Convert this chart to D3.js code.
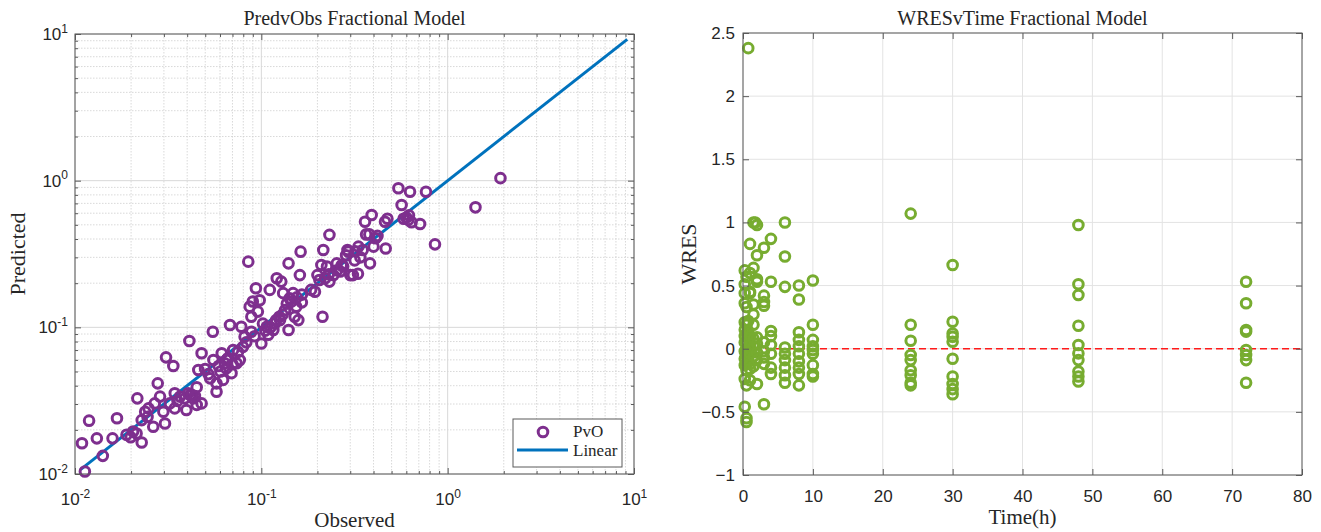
<!DOCTYPE html>
<html>
<head>
<meta charset="utf-8">
<script src="https://cdn.jsdelivr.net/npm/d3@7"></script>
<style>
  body { margin: 0; background: #fff; }
  svg { display: block; }
</style>
</head>
<body>
<svg id="chart" width="1321" height="532"></svg>
<script>
// Predicted vs observed (log-log)
const pvoObserved = [
  0.0113, 0.0109, 0.0119, 0.0131, 0.0141, 0.0159, 0.0168, 0.0189, 0.0199, 0.0214,
  0.0228, 0.0216, 0.0228, 0.0238, 0.0248, 0.0263, 0.0268, 0.0278, 0.0286, 0.0304,
  0.0308, 0.0337, 0.0298, 0.0323, 0.0343, 0.0343, 0.0366, 0.0389, 0.0396, 0.0411,
  0.0415, 0.0431, 0.0450, 0.0459, 0.0478, 0.0478, 0.0450, 0.0499, 0.0531, 0.0549,
  0.0553, 0.0575, 0.0575, 0.0603, 0.0613, 0.0623, 0.0636, 0.0648, 0.0662, 0.0679,
  0.0692, 0.0706, 0.0736, 0.0766, 0.0781, 0.0797, 0.0813, 0.0851, 0.0866, 0.0884,
  0.0884, 0.090, 0.0935, 0.0958, 0.098, 0.100, 0.102, 0.107, 0.109, 0.111,
  0.116, 0.118, 0.121, 0.126, 0.128, 0.131, 0.134, 0.137, 0.140, 0.140,
  0.142, 0.148, 0.151, 0.154, 0.158, 0.161, 0.1625, 0.165, 0.194, 0.213,
  0.210, 0.215, 0.200, 0.205, 0.220, 0.225, 0.232, 0.232, 0.244, 0.254,
  0.265, 0.275, 0.285, 0.290, 0.300, 0.310, 0.317, 0.293, 0.330, 0.332,
  0.350, 0.383, 0.391, 0.360, 0.365, 0.380, 0.400, 0.410, 0.461, 0.465,
  0.475, 0.544, 0.566, 0.580, 0.615, 0.628, 0.640, 0.711, 0.765, 0.855,
  1.41, 1.92, 0.0205, 0.0245, 0.0355, 0.0405, 0.0425, 0.0440, 0.0520, 0.0590,
  0.0650, 0.0700, 0.0750, 0.0830, 0.0920, 0.105, 0.112, 0.120, 0.125, 0.130,
  0.145, 0.155, 0.165, 0.185, 0.230, 0.255, 0.270, 0.320, 0.340, 0.420,
  0.600, 0.620
];
const pvoPredicted = [
  0.0104, 0.0162, 0.0231, 0.0175, 0.0133, 0.0175, 0.0240, 0.0185, 0.0178, 0.0189,
  0.0164, 0.0328, 0.0233, 0.0266, 0.0280, 0.0210, 0.0303, 0.0415, 0.0337, 0.0221,
  0.0624, 0.0545, 0.0266, 0.0303, 0.0355, 0.0280, 0.0337, 0.0328, 0.0273, 0.0807,
  0.0346, 0.0328, 0.0390, 0.0512, 0.0665, 0.0303, 0.0296, 0.0520, 0.0449, 0.0933,
  0.0599, 0.0364, 0.0415, 0.0500, 0.0665, 0.0438, 0.0569, 0.0525, 0.0615, 0.1037,
  0.0487, 0.0700, 0.0569, 0.0599, 0.101, 0.0736, 0.0863, 0.2805, 0.1384, 0.0933,
  0.118, 0.150, 0.1845, 0.128, 0.153, 0.0776, 0.106, 0.101, 0.089, 0.180,
  0.096, 0.106, 0.216, 0.112, 0.205, 0.171, 0.131, 0.145, 0.273, 0.096,
  0.158, 0.171, 0.118, 0.138, 0.112, 0.227, 0.328, 0.167, 0.175, 0.118,
  0.266, 0.337, 0.227, 0.210, 0.216, 0.260, 0.205, 0.427, 0.227, 0.273,
  0.240, 0.260, 0.310, 0.337, 0.227, 0.227, 0.286, 0.328, 0.232, 0.355,
  0.337, 0.273, 0.583, 0.525, 0.430, 0.430, 0.355, 0.405, 0.525, 0.345,
  0.550, 0.887, 0.683, 0.550, 0.540, 0.841, 0.520, 0.507, 0.841, 0.368,
  0.658, 1.04, 0.0195, 0.0245, 0.0315, 0.0355, 0.0345, 0.0340, 0.0480, 0.0545,
  0.0600, 0.0560, 0.0680, 0.0790, 0.0870, 0.095, 0.100, 0.112, 0.118, 0.122,
  0.150, 0.160, 0.148, 0.180, 0.230, 0.245, 0.265, 0.330, 0.300, 0.420,
  0.560, 0.580
];
const linearX = [0.0107, 9.2];
const logTicks = [0.01, 0.1, 1, 10];

// Weighted residuals vs time
const wresTime = [
  0.75, 1.5, 2, 1.75, 6, 1, 3, 4, 2, 6,
  0.25, 1.5, 1, 0.5, 2, 2, 4, 0.25, 6, 8, 10, 8,
  0.25, 1, 3, 3, 0.25, 1.5, 3, 1, 0.5,
  1.5, 0.25, 0.5, 1.5, 0.75,
  4, 4, 8, 8, 10, 10, 10,
  0.25, 0.25, 0.25, 0.25, 0.25, 0.25, 0.5, 0.5, 0.5, 0.5, 0.5, 0.5,
  0.75, 0.75, 0.75, 0.75, 0.75, 1, 1, 1, 1, 1, 1.5, 1.5, 1.5, 1.5,
  2, 2, 2, 2, 3, 3, 3, 3, 4, 4, 4, 4,
  6, 6, 6, 6, 6, 6, 8, 8, 8, 8, 8, 8, 10, 10, 10, 10, 10,
  2, 1, 0.5, 0.25, 0.25, 0.5, 0.5, 3,
  24, 24, 24, 24, 24, 24, 24, 24, 24,
  30, 30, 30, 30, 30, 30, 30, 30, 30, 30,
  48, 48, 48, 48, 48, 48, 48, 48, 48, 48,
  72, 72, 72, 72, 72, 72, 72, 72
];
const wresValues = [
  2.38, 1.0, 0.98, 1.0, 1.0, 0.83, 0.80, 0.87, 0.74, 0.73,
  0.62, 0.64, 0.60, 0.57, 0.53, 0.55, 0.53, 0.51, 0.49, 0.50, 0.54, 0.39,
  0.44, 0.44, 0.42, 0.34, 0.36, 0.35, 0.37, 0.45, 0.33,
  0.27, 0.21, 0.19, 0.19, 0.22,
  0.14, 0.10, 0.13, 0.07, 0.19, 0.07, 0.02,
  0.15, 0.10, 0.05, -0.02, -0.08, -0.13, 0.12, 0.06, -0.01, -0.06, -0.12, -0.17,
  0.14, 0.08, 0.0, -0.05, -0.10, 0.10, 0.03, -0.04, -0.12, -0.16, 0.08, 0.02, -0.06, -0.14,
  0.09, 0.04, -0.03, -0.09, 0.05, -0.02, -0.07, -0.12, 0.03, -0.04, -0.15, -0.20,
  0.01, -0.09, -0.15, -0.21, -0.27, -0.04, -0.04, -0.15, -0.20, -0.29, 0.02, -0.10,
  -0.01, -0.04, -0.13, -0.20, -0.22,
  -0.28, -0.25, -0.29, -0.24, -0.46, -0.55, -0.58, -0.44,
  1.07, 0.19, 0.063, -0.05, -0.09, -0.17, -0.21, -0.27, -0.29,
  0.663, 0.214, 0.12, 0.095, 0.055, -0.08, -0.22, -0.28, -0.32, -0.36,
  0.98, 0.51, 0.425, 0.182, 0.03, -0.037, -0.09, -0.18, -0.22, -0.26,
  0.53, 0.36, 0.148, 0.135, -0.01, -0.05, -0.09, -0.27
];
const timeTicks = [0, 10, 20, 30, 40, 50, 60, 70, 80];
const wresTicks = [-1, -0.5, 0, 0.5, 1, 1.5, 2, 2.5];

const serif = "'Liberation Serif', 'Times New Roman', serif";
const sans = "'Liberation Sans', Arial, Helvetica, sans-serif";
const boxColor = "#5a5a5a";
const textColor = "#262626";
const markerR = 4.8;
const markerW = 3;

const svg = d3.select("#chart");

const L = {left: 75, right: 634, top: 34, bottom: 474};
const R = {left: 743, right: 1302, top: 33, bottom: 475};

const x1 = d3.scaleLog().domain([0.01, 10]).range([L.left, L.right]);
const y1 = d3.scaleLog().domain([0.01, 10]).range([L.bottom, L.top]);
const x2 = d3.scaleLinear().domain([0, 80]).range([R.left, R.right]);
const y2 = d3.scaleLinear().domain([-1, 2.5]).range([R.bottom, R.top]);

const minorLog = x1.ticks().filter(v => !logTicks.some(t => Math.abs(t - v) < 1e-9));

function powLabel(text) {
  text.each(function(v) {
    const t = d3.select(this);
    const e = Math.round(Math.log10(v));
    t.text(null);
    t.append("tspan").text("10");
    t.append("tspan").attr("dy", "-0.6em").attr("font-size", "12px").text(e);
  });
}

function gridLines(g, xs, ys, box, xScale, yScale, cls) {
  g.selectAll(`line.v${cls}`).data(xs).enter().append("line")
    .attr("x1", d => xScale(d)).attr("x2", d => xScale(d))
    .attr("y1", box.top).attr("y2", box.bottom);
  g.selectAll(`line.h${cls}`).data(ys).enter().append("line")
    .attr("y1", d => yScale(d)).attr("y2", d => yScale(d))
    .attr("x1", box.left).attr("x2", box.right);
}

function styleAxis(g) {
  g.select(".domain").remove();
  g.selectAll(".tick line").attr("stroke", boxColor);
  g.selectAll("text").attr("fill", textColor).style("font-family", sans).style("font-size", "17px");
}

function frame(box, xScale, yScale, xMajor, yMajor, xMinor, yMinor, fmt, xPad, yPad) {
  const w = box.right - box.left, h = box.bottom - box.top;
  const sides = [
    ["bottom", `translate(0,${box.bottom})`, xMajor, xMinor, true],
    ["top", `translate(0,${box.top})`, xMajor, xMinor, false],
    ["left", `translate(${box.left},0)`, yMajor, yMinor, true],
    ["right", `translate(${box.right},0)`, yMajor, yMinor, false]
  ];
  const make = side => side === "bottom" ? d3.axisBottom(xScale) : side === "top" ? d3.axisTop(xScale)
    : side === "left" ? d3.axisLeft(yScale) : d3.axisRight(yScale);
  for (const [side, tr, major, minor, labels] of sides) {
    if (minor.length) {
      const gm = svg.append("g").attr("transform", tr)
        .call(make(side).tickValues(minor).tickSize(-3).tickFormat(""));
      styleAxis(gm);
    }
    const pad = side === "bottom" ? xPad : yPad;
    const ax = make(side).tickValues(major).tickSize(-6).tickPadding(pad);
    if (labels) ax.tickFormat(fmt === "pow" ? (d => d) : fmt); else ax.tickFormat("");
    const g = svg.append("g").attr("transform", tr).call(ax);
    styleAxis(g);
    if (labels && fmt === "pow") g.selectAll(".tick text").call(powLabel);
  }
  svg.append("rect")
    .attr("x", box.left).attr("y", box.top).attr("width", w).attr("height", h)
    .attr("fill", "none").attr("stroke", boxColor).attr("stroke-width", 1);
}

// ---------- left panel ----------
const gl = svg.append("g");
const minorGrid = gl.append("g").attr("stroke", "#cfcfcf").attr("stroke-width", 0.8)
  .attr("stroke-dasharray", "1.5,1.5");
gridLines(minorGrid, minorLog, minorLog, L, x1, y1, "m");
const majorGrid = gl.append("g").attr("stroke", "#d8d8d8").attr("stroke-width", 1);
gridLines(majorGrid, logTicks, logTicks, L, x1, y1, "M");

gl.append("path")
  .datum(linearX)
  .attr("fill", "none")
  .attr("stroke", "#0072BD")
  .attr("stroke-width", 3)
  .attr("d", d3.line().x(d => x1(d)).y(d => y1(d)));

gl.selectAll("circle.pvo")
  .data(d3.range(pvoObserved.length))
  .enter()
  .append("circle")
    .attr("class", "pvo")
    .attr("cx", i => x1(pvoObserved[i]))
    .attr("cy", i => y1(pvoPredicted[i]))
    .attr("r", markerR)
    .attr("fill", "none")
    .attr("stroke", "#7E2F8E")
    .attr("stroke-width", markerW);

frame(L, x1, y1, logTicks, logTicks, minorLog, minorLog, "pow", 19, 7);

// ---------- right panel ----------
const gr = svg.append("g");
const rGrid = gr.append("g").attr("stroke", "#e3e3e3").attr("stroke-width", 1);
gridLines(rGrid, timeTicks, wresTicks, R, x2, y2, "r");

gr.append("line")
  .attr("x1", x2(0)).attr("x2", x2(80))
  .attr("y1", y2(0)).attr("y2", y2(0))
  .attr("stroke", "#ff1a1a")
  .attr("stroke-width", 1.6)
  .attr("stroke-dasharray", "7,4");

gr.selectAll("circle.wres")
  .data(d3.range(wresTime.length))
  .enter()
  .append("circle")
    .attr("class", "wres")
    .attr("cx", i => x2(wresTime[i]))
    .attr("cy", i => y2(wresValues[i]))
    .attr("r", markerR)
    .attr("fill", "none")
    .attr("stroke", "#77AC30")
    .attr("stroke-width", markerW);

frame(R, x2, y2, timeTicks, wresTicks, [], [], d => d3.format("")(d), 15, 8);

// ---------- legend ----------
const lg = svg.append("g");
lg.append("rect")
  .attr("x", 513).attr("y", 419).attr("width", 109).attr("height", 48)
  .attr("fill", "#fff").attr("stroke", boxColor).attr("stroke-width", 1);
lg.append("circle")
  .attr("cx", 543).attr("cy", 432).attr("r", markerR)
  .attr("fill", "none").attr("stroke", "#7E2F8E").attr("stroke-width", markerW);
lg.append("line")
  .attr("x1", 517).attr("x2", 568).attr("y1", 450).attr("y2", 450)
  .attr("stroke", "#0072BD").attr("stroke-width", 3);
lg.selectAll("text.leg")
  .data([["PvO", 437], ["Linear", 456]])
  .enter().append("text")
    .attr("x", 573).attr("y", d => d[1])
    .text(d => d[0])
    .style("font-family", serif).style("font-size", "17px").attr("fill", textColor);

// ---------- titles and labels ----------
const labels = [
  {text: "PredvObs Fractional Model", x: (L.left + L.right) / 2, y: 25, size: 20, rot: false},
  {text: "WRESvTime Fractional Model", x: (R.left + R.right) / 2, y: 25, size: 20, rot: false},
  {text: "Observed", x: (L.left + L.right) / 2, y: 527, size: 21, rot: false},
  {text: "Time(h)", x: (R.left + R.right) / 2, y: 524, size: 21, rot: false},
  {text: "Predicted", x: 25, y: (L.top + L.bottom) / 2, size: 22, rot: true},
  {text: "WRES", x: 696, y: (R.top + R.bottom) / 2, size: 22, rot: true}
];
svg.selectAll("text.lab")
  .data(labels)
  .enter().append("text")
    .attr("class", "lab")
    .attr("transform", d => `translate(${d.x},${d.y})` + (d.rot ? " rotate(-90)" : ""))
    .attr("text-anchor", "middle")
    .style("font-family", serif)
    .style("font-size", d => d.size + "px")
    .attr("fill", textColor)
    .text(d => d.text);
</script>
</body>
</html>
